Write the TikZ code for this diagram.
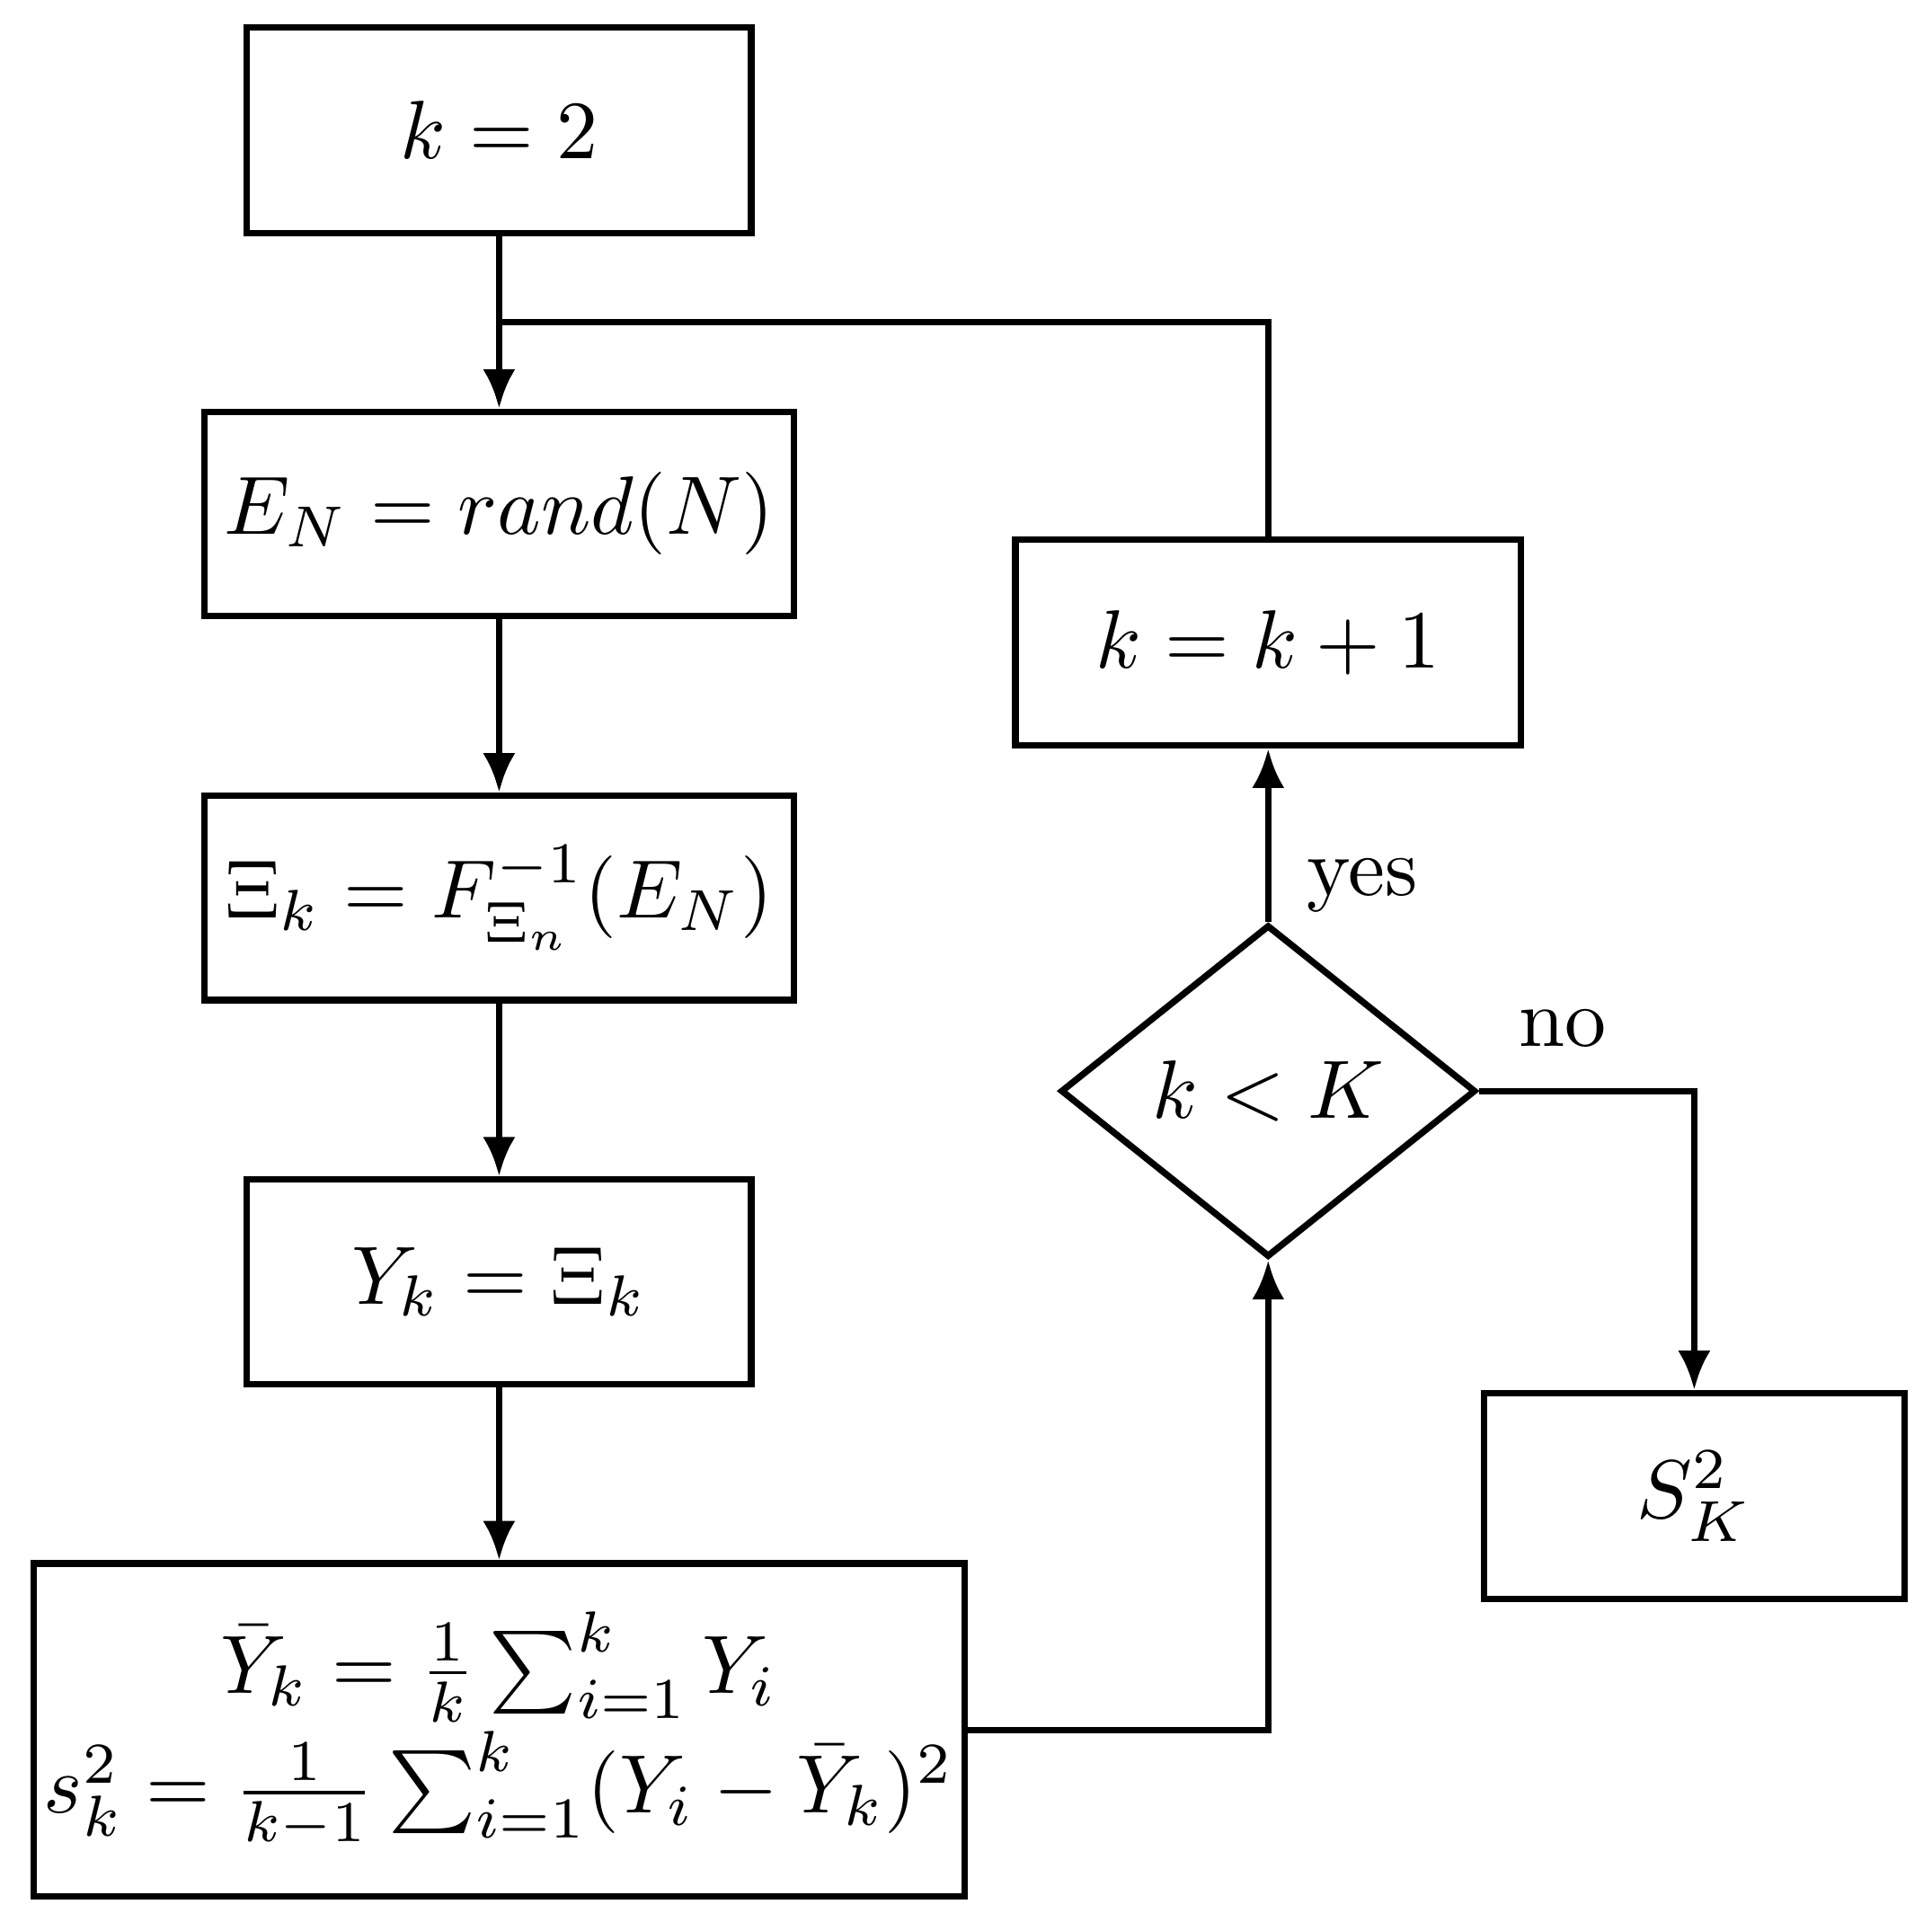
\documentclass[tikz,border=0pt]{standalone}
\usepackage{graphicx}
\usetikzlibrary{shapes.geometric,arrows.meta}
\newcommand{\bigtxt}[1]{\scalebox{1.9}{#1}}
\begin{document}
\begin{tikzpicture}[x=0.01cm,y=-0.01cm,line width=1.5pt,
  box/.style={draw,rectangle,inner sep=0pt},
  arr/.style={-{Latex[length=9pt,width=7.5pt]}}]
\useasboundingbox (0,0) rectangle (1560,1552);
\node[box,minimum width=4.07cm,minimum height=1.66cm] (a) at (403,105) {\bigtxt{$k=2$}};
\node[box,minimum width=4.76cm,minimum height=1.65cm] (b) at (403,415) {\bigtxt{$E_N=rand(N)$}};
\node[box,minimum width=4.76cm,minimum height=1.65cm] (c) at (403,725) {\bigtxt{$\Xi_k=F_{\Xi_n}^{-1}(E_N)$}};
\node[box,minimum width=4.07cm,minimum height=1.65cm] (d) at (403,1035) {\bigtxt{$Y_k=\Xi_k$}};
\node[box,minimum width=7.51cm,minimum height=2.69cm] (e) at (403,1397)
 {\bigtxt{\begin{tabular}{@{}c@{}}$\bar Y_k=\frac1k\sum_{i=1}^k Y_i$\\[1pt] $s_k^2=\frac{1}{k-1}\sum_{i=1}^k(Y_i-\bar Y_k)^2$\end{tabular}}};
\node[box,minimum width=4.08cm,minimum height=1.66cm] (f) at (1024,519) {\bigtxt{$k=k+1$}};
\node[box,diamond,minimum width=3.35cm,minimum height=2.68cm,aspect=1.25] (g) at (1024,881) {\bigtxt{$k<K$}};
\node[box,minimum width=3.39cm,minimum height=1.66cm] (h) at (1368,1208) {\bigtxt{$S_K^2$}};
\coordinate (j) at (403,260);
\draw (a.south) -- (j);
\draw[arr] (j) -- (b.north);
\draw[arr] (b) -- (c);
\draw[arr] (c) -- (d);
\draw[arr] (d) -- (e);
\draw (f.north) |- (j);
\draw[arr] (e.east) -| (g.south);
\draw[arr] (g.north) -- (f.south);
\draw[arr] (g.east) -| (h.north);
\node (y) at (1100,715) {\bigtxt{yes}};
\node (n) at (1262,830) {\bigtxt{no}};
\end{tikzpicture}
\end{document}
